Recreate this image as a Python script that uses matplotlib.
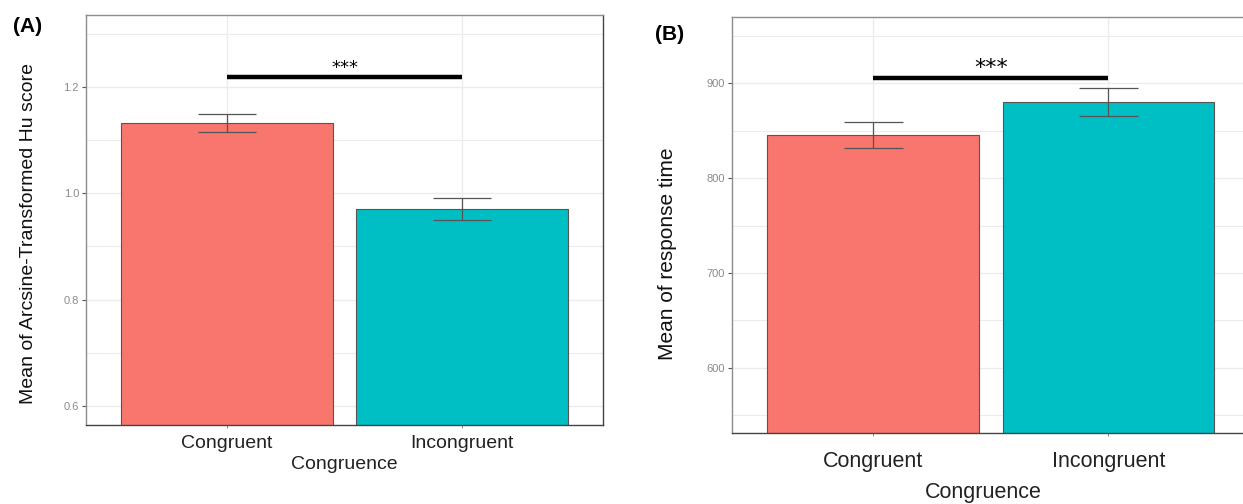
import matplotlib
matplotlib.use('Agg')
import matplotlib.pyplot as plt
from matplotlib.ticker import MultipleLocator

plt.rcParams['font.family'] = ['Liberation Sans', 'DejaVu Sans']

conditions = ["Congruent", "Incongruent"]
bar_colors = ["#F8766D", "#00BFC4"]

# panel A: arcsine-transformed Hu score
hu_mean = [1.132, 0.970]
hu_se = [0.017, 0.020]
hu_sig_y = 1.219

# panel B: response time
rt_mean = [845.8, 880.0]
rt_se = [13.8, 14.8]
rt_sig_y = 905.6

GRID = "#ececec"
EDGE = "#555555"


def _panel(ax, means, ses, sig_y, ylim, major, ylabel, tick_fs, label_fs, ylab_fs, star_fs):
    xs = [1, 2]
    ax.set_axisbelow(True)
    ax.bar(xs, means, width=0.9, color=bar_colors, edgecolor=EDGE, linewidth=0.8, zorder=2)
    lo = [m - s for m, s in zip(means, ses)]
    hi = [m + s for m, s in zip(means, ses)]
    ax.vlines(xs, lo, hi, color=EDGE, linewidth=0.9, zorder=3)
    for x, l, h in zip(xs, lo, hi):
        ax.hlines([l, h], x - 0.125, x + 0.125, color=EDGE, linewidth=0.9, zorder=3)
    ax.hlines(sig_y, xs[0], xs[1], color="black", linewidth=3.2, zorder=4)
    ax.annotate("***", xy=(1.5, sig_y), xytext=(0, 0), textcoords="offset points",
                ha="center", va="bottom", fontsize=star_fs, family="DejaVu Sans")

    ax.set_xlim(0.4, 2.6)
    ax.set_ylim(*ylim)
    ax.set_xticks(xs)
    ax.set_xticklabels(conditions, fontsize=label_fs, color="#222222")
    ax.yaxis.set_major_locator(MultipleLocator(major))
    ax.yaxis.set_minor_locator(MultipleLocator(major / 2))
    ax.grid(True, which="major", color=GRID, linewidth=1.0)
    ax.grid(True, which="minor", axis="y", color=GRID, linewidth=0.8)
    ax.tick_params(axis="y", which="major", labelsize=tick_fs, labelcolor="#8a8a8a",
                   color="#555555", length=3, width=0.8, pad=2)
    ax.tick_params(axis="y", which="minor", length=0)
    ax.tick_params(axis="x", length=2.5, width=0.6, color="#777777")
    for s in ax.spines.values():
        s.set_color("#8c8c8c")
        s.set_linewidth(1.0)
    ax.spines["bottom"].set_color("#444444")
    ax.spines["right"].set_color("#444444")
    ax.set_ylabel(ylabel, fontsize=ylab_fs, color="#111111")
    ax.set_xlabel("Congruence", fontsize=label_fs, color="#222222")


fig = plt.figure(figsize=(12.43, 5.04), dpi=100)
ax_a = fig.add_axes([0.0692, 0.1567, 0.4159, 0.8135])
ax_b = fig.add_axes([0.5889, 0.1403, 0.4164, 0.8266])

_panel(ax_a, hu_mean, hu_se, hu_sig_y, (0.564, 1.335), 0.2,
       "Mean of Arcsine-Transformed Hu score", 8, 14, 14, 13)
ax_a.tick_params(axis="x", pad=5)
ax_a.yaxis.set_label_coords(-0.095, 0.466)
ax_a.xaxis.set_label_coords(0.5, -0.075)

_panel(ax_b, rt_mean, rt_se, rt_sig_y, (530.8, 970.3), 100,
       "Mean of response time", 8, 15.5, 15, 16)
ax_b.tick_params(axis="x", pad=10)
ax_b.yaxis.set_label_coords(-0.106, 0.43)
ax_b.xaxis.set_label_coords(0.485, -0.118)

fig.text(28 / 1243, 1 - 26 / 504, "(A)", fontsize=15, fontweight="bold", ha="center", va="center")
fig.text(670 / 1243, 1 - 34 / 504, "(B)", fontsize=15, fontweight="bold", ha="center", va="center")

fig.savefig("out.png", dpi=100)
plt.close(fig)
